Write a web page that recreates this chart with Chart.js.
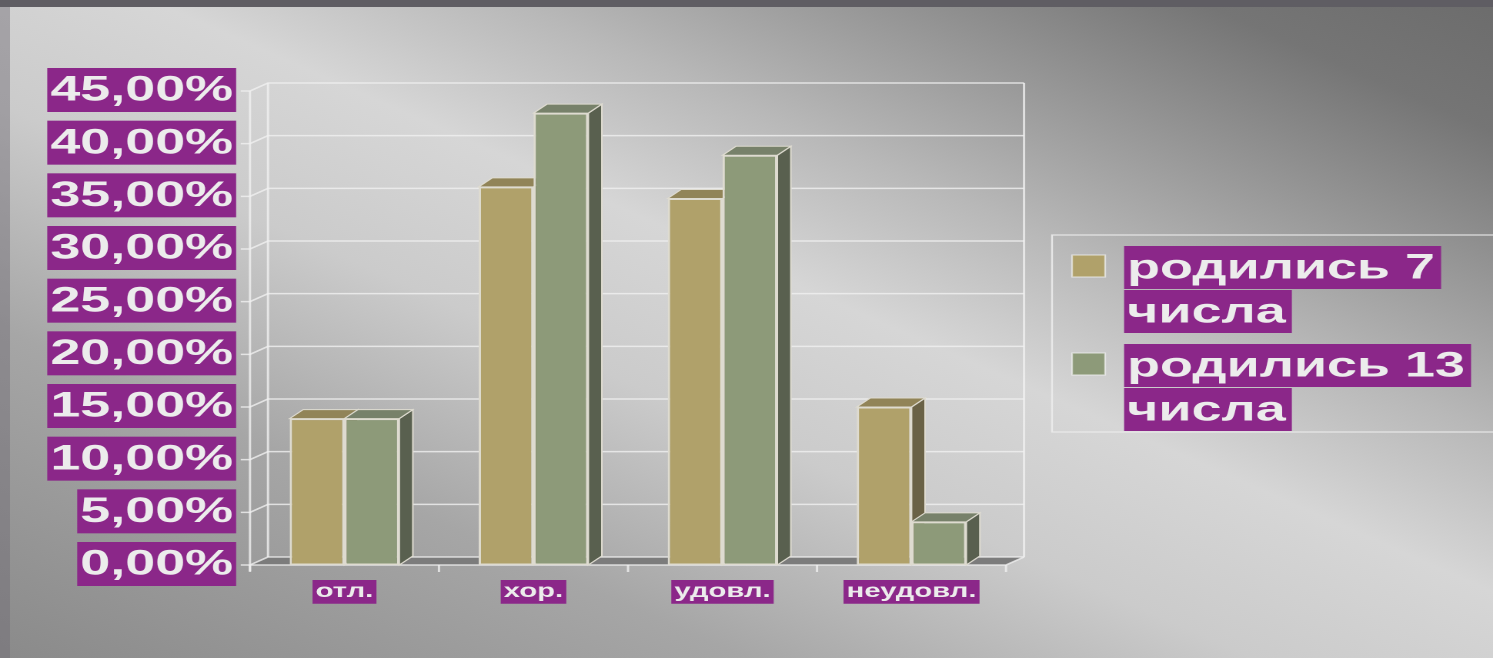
<!DOCTYPE html>
<html>
<head>
<meta charset="utf-8">
<script src="https://cdn.jsdelivr.net/npm/chart.js@4"></script>
<style>
    html, body { margin: 0; padding: 0; width: 1493px; height: 658px; overflow: hidden; }
    body {
        position: relative;
        background: linear-gradient(to top right, #8a8a8a 0%, #a6a6a6 25%, #cbcbcb 42%, #d6d6d6 55%, #b8b8b8 67%, #989898 78%, #757575 90%, #6c6c6c 100%);
    }
    #topBand { position: absolute; left: 0; top: 0; width: 1493px; height: 7px; background: #5f5d63; }
    #leftBand { position: absolute; left: 0; top: 7px; width: 10px; height: 651px; background: rgba(110, 106, 116, 0.45); }
    #wrap {
        position: absolute; left: 0; top: 0; width: 970px; height: 658px;
        transform: scaleX(1.5392); transform-origin: 0 0;
    }
</style>
</head>
<body>
<div id="topBand"></div>
<div id="leftBand"></div>
<div id="wrap"><canvas id="chart" width="970" height="658"></canvas></div>
<script>
// data
const categories = ['отл.', 'хор.', 'удовл.', 'неудовл.'];
const seriesNames = ['родились 7 числа', 'родились 13 числа'];
const born7 = [13.9, 35.9, 34.8, 15.0];
const born13 = [13.9, 42.9, 38.9, 4.1];
const yMax = 45;
const yStep = 5;

const PURPLE = '#8b2789';
const TEXT = '#ececec';
const FAMILY = "'Liberation Sans', Arial, sans-serif";
const WALL_DX = 11.7, WALL_DY = -8;
const BAR_DX = 8.8, BAR_DY = -9;
const GRID = 'rgba(240, 240, 240, 0.8)';
const EDGE = '#dedbd0';

const seriesColors = ['#b0a16a', '#8d9a79'];
const faceColors = [
    { top: '#918458', side: '#6a6246' },
    { top: '#77816a', side: '#59604f' }
];

function fmtPct(v) {
    return v.toFixed(2).replace('.', ',') + '%';
}

function splitName(name) {
    const i = name.lastIndexOf(' ');
    return [name.slice(0, i), name.slice(i + 1)];
}

function poly(ctx, pts, fill) {
    ctx.beginPath();
    ctx.moveTo(pts[0][0], pts[0][1]);
    for (let i = 1; i < pts.length; i++) ctx.lineTo(pts[i][0], pts[i][1]);
    ctx.closePath();
    ctx.fillStyle = fill;
    ctx.fill();
    ctx.stroke();
}

// back wall, side wall, floor and the 3d faces of the bars
const walls = {
    id: 'walls',
    beforeDatasetsDraw(chart) {
        const { ctx, chartArea: a, scales: { y } } = chart;
        ctx.save();
        ctx.fillStyle = '#7c7c7c';
        ctx.beginPath();
        ctx.moveTo(a.left, a.bottom);
        ctx.lineTo(a.right, a.bottom);
        ctx.lineTo(a.right + WALL_DX, a.bottom + WALL_DY);
        ctx.lineTo(a.left + WALL_DX, a.bottom + WALL_DY);
        ctx.closePath();
        ctx.fill();

        ctx.strokeStyle = GRID;
        ctx.lineWidth = 1.5;
        y.ticks.forEach(t => {
            const py = y.getPixelForValue(t.value);
            ctx.beginPath();
            ctx.moveTo(a.left - 6, py);
            ctx.lineTo(a.left, py);
            ctx.lineTo(a.left + WALL_DX, py + WALL_DY);
            ctx.lineTo(a.right + WALL_DX, py + WALL_DY);
            ctx.stroke();
        });
        const yTop = y.getPixelForValue(yMax);
        ctx.beginPath();
        ctx.moveTo(a.left, a.bottom + 6);
        ctx.lineTo(a.left, yTop);
        ctx.moveTo(a.left + WALL_DX, a.bottom + WALL_DY);
        ctx.lineTo(a.left + WALL_DX, yTop + WALL_DY);
        ctx.moveTo(a.right + WALL_DX, a.bottom + WALL_DY);
        ctx.lineTo(a.right + WALL_DX, yTop + WALL_DY);
        ctx.moveTo(a.left, a.bottom);
        ctx.lineTo(a.right, a.bottom);
        ctx.lineTo(a.right + WALL_DX, a.bottom + WALL_DY);
        ctx.stroke();
        for (let i = 0; i <= categories.length; i++) {
            const px = a.left + (a.right - a.left) * i / categories.length;
            ctx.beginPath();
            ctx.moveTo(px, a.bottom);
            ctx.lineTo(px, a.bottom + 7);
            ctx.stroke();
        }

        ctx.strokeStyle = EDGE;
        ctx.lineWidth = 1;
        chart.data.datasets.forEach((ds, di) => {
            const meta = chart.getDatasetMeta(di);
            meta.data.forEach(bar => {
                const p = bar.getProps(['x', 'y', 'base', 'width'], true);
                const l = p.x - p.width / 2, r = p.x + p.width / 2;
                poly(ctx, [[r, p.y], [r + BAR_DX, p.y + BAR_DY], [r + BAR_DX, p.base + BAR_DY], [r, p.base]], faceColors[di].side);
                poly(ctx, [[l, p.y], [r, p.y], [r + BAR_DX, p.y + BAR_DY], [l + BAR_DX, p.y + BAR_DY]], faceColors[di].top);
            });
        });
        ctx.restore();
    }
};

// legend with the purple text highlight
const legendBox = {
    id: 'legendBox',
    afterDraw(chart) {
        const ctx = chart.ctx;
        ctx.save();
        ctx.strokeStyle = 'rgba(236, 236, 236, 0.9)';
        ctx.lineWidth = 1.2;
        ctx.strokeRect(683.5, 235, 320, 197);
        ctx.font = 'bold 35px ' + FAMILY;
        ctx.textBaseline = 'middle';
        chart.data.datasets.forEach((ds, i) => {
            const top = 246 + i * 98;
            ctx.fillStyle = ds.backgroundColor;
            ctx.fillRect(696.5, top + 9, 21.5, 22);
            ctx.strokeStyle = 'rgba(240, 240, 240, 0.7)';
            ctx.strokeRect(696.5, top + 9, 21.5, 22);
            splitName(ds.label).forEach((line, j) => {
                const w = ctx.measureText(line).width;
                const ly = top + j * 44;
                ctx.fillStyle = PURPLE;
                ctx.fillRect(730.3, ly, w + 6, 43);
                ctx.fillStyle = TEXT;
                ctx.fillText(line, 732.3, ly + 23);
            });
        });
        ctx.restore();
    }
};

new Chart(document.getElementById('chart'), {
    type: 'bar',
    data: {
        labels: categories,
        datasets: [
            { label: seriesNames[0], data: born7, backgroundColor: seriesColors[0] },
            { label: seriesNames[1], data: born13, backgroundColor: seriesColors[1] }
        ]
    },
    options: {
        responsive: false,
        animation: false,
        devicePixelRatio: 2,
        layout: { padding: { top: 91, bottom: 53, left: 0, right: 316.4 } },
        datasets: {
            bar: {
                categoryPercentage: 0.58,
                barPercentage: 1.0,
                borderWidth: 1.5,
                borderColor: EDGE,
                borderSkipped: false
            }
        },
        plugins: {
            legend: { display: false },
            tooltip: { enabled: false }
        },
        scales: {
            x: {
                grid: { display: false, drawTicks: false },
                border: { display: false },
                afterFit(scale) { scale.height = 40; },
                ticks: {
                    padding: 15,
                    color: TEXT,
                    font: { family: FAMILY, size: 19, weight: 'bold', lineHeight: 1.25 },
                    showLabelBackdrop: true,
                    backdropColor: PURPLE,
                    backdropPadding: { top: 0, bottom: 0, left: 2, right: 2 }
                }
            },
            y: {
                min: 0,
                max: yMax,
                grid: { display: false, drawTicks: false },
                border: { display: false },
                afterFit(scale) { scale.width = 162.4; },
                ticks: {
                    stepSize: yStep,
                    autoSkip: false,
                    padding: 11,
                    color: TEXT,
                    font: { family: FAMILY, size: 35, weight: 'bold', lineHeight: 1.2 },
                    showLabelBackdrop: true,
                    backdropColor: PURPLE,
                    backdropPadding: { top: 2, bottom: 0, left: 2, right: 2 },
                    callback: v => fmtPct(v)
                }
            }
        }
    },
    plugins: [walls, legendBox]
});
</script>
</body>
</html>
